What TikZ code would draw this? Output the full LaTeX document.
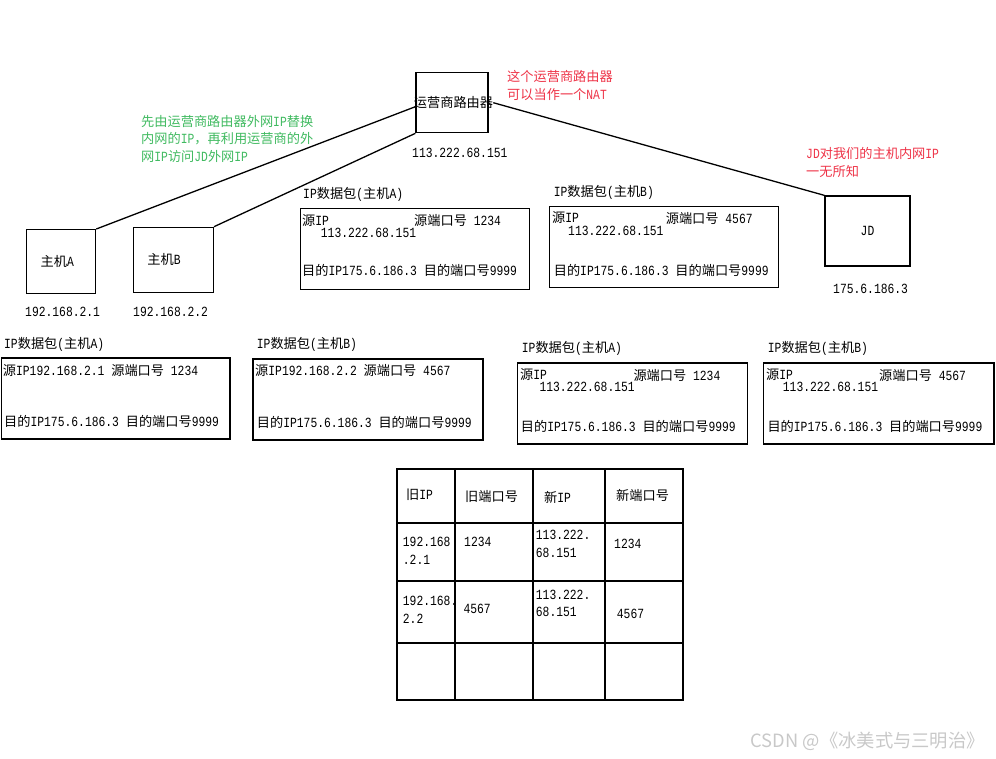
\documentclass[tikz,border=0pt]{standalone}
\usepackage{fontspec}
\setmainfont{Liberation Mono}[Scale=1.06,FakeStretch=0.81]
\newfontfamily\zhfont{Noto Sans CJK SC}
\usepackage{tikz}
\usetikzlibrary{positioning,calc}
\definecolor{noteRed}{RGB}{238,52,72}
\definecolor{noteGreen}{RGB}{64,186,96}
\definecolor{markGray}{RGB}{200,200,200}

% CJK runs switch to the CJK font by themselves
\XeTeXinterchartokenstate=1
\newcount\zhcode
\zhcode="4E00
\loop
  \XeTeXcharclass\zhcode=10
  \ifnum\zhcode<"9FFF \advance\zhcode by 1
\repeat
\XeTeXcharclass"FF0C=10
\XeTeXcharclass"300A=10
\XeTeXcharclass"300B=10
\XeTeXinterchartoks 0 10 = {\zhfont}
\XeTeXinterchartoks 4095 10 = {\zhfont}
\XeTeXinterchartoks 10 0 = {\rmfamily}
\XeTeXinterchartoks 10 4095 = {\rmfamily}

\begin{document}
\begin{tikzpicture}[x=1pt,y=-1pt,font=\fontsize{13.2}{17.5}\selectfont,
    netbox/.style={draw,line width=1.3pt,inner sep=0pt},
    pktbox/.style={draw,line width=1.3pt,inner sep=0pt,anchor=north west,minimum height=81pt},
    txt/.style={inner sep=0pt,anchor=base west,align=left},
    conn/.style={line width=1.3pt}]
    \useasboundingbox (0,0) rectangle (996,758);

    % Router
    \node[netbox,minimum width=72pt,minimum height=60pt] (router) at (452,102.7) {};
    \node[inner sep=0pt] (routerlbl) at ([xshift=1.5pt]router.center) {运营商路由器};
    \node[txt] (routerip) at (412,157) {113.222.68.151};
    \node[txt,text=noteRed] (natnote) at (507,99) {这个运营商路由器\\可以当作一个NAT};
    \node[txt,text=noteGreen] (swapnote) at (141,161) {先由运营商路由器外网IP替换\\内网的IP，再利用运营商的外\\网IP访问JD外网IP};

    % Hosts
    \node[netbox,anchor=north west,minimum height=64pt,text width=41pt,inner xsep=14pt,align=left] (hostA) at (26,229) {主机A};
    \node[netbox,anchor=north west,minimum height=65pt,text width=52pt,inner xsep=14pt,align=left] (hostB) at (132.7,226.7) {主机B};
    \node[txt] (hostAip) at (25,316) {192.168.2.1};
    \node[txt] (hostBip) at (133,316) {192.168.2.2};

    % JD
    \node[netbox,minimum width=85pt,minimum height=70pt] (jd) at (867.5,231) {JD};
    \node[txt] (jdip) at (833,293) {175.6.186.3};
    \node[txt,text=noteRed] (jdnote) at (806,176) {JD对我们的主机内网IP\\一无所知};

    % Links
    \draw[conn] ([yshift=-4pt]router.west) -- (hostA.north east);
    \draw[conn] (router.south west) -- (hostB.north east);
    \draw[conn] (routerlbl.east) -- (jd.north west);

    % Packets after the router
    \node[pktbox,minimum width=229pt] (pktA1) at (300,207.7) {};
    \node[txt] (pktA1t) at (303,198) {IP数据包(主机A)};
    \node[txt] (pktA1s) at (302,225.7) {源IP};
    \node[txt] (pktA1p) at (414,225.7) {源端口号 1234};
    \node[txt] (pktA1i) at (320.7,237) {113.222.68.151};
    \node[txt] (pktA1d) at (302,275.7) {目的IP175.6.186.3 目的端口号9999};

    \node[pktbox,minimum width=229pt] (pktB1) at (549,205.7) {};
    \node[txt] (pktB1t) at (553.6,196.7) {IP数据包(主机B)};
    \node[txt] (pktB1s) at (552,222) {源IP};
    \node[txt] (pktB1p) at (665.6,223) {源端口号 4567};
    \node[txt] (pktB1i) at (568,235.7) {113.222.68.151};
    \node[txt] (pktB1d) at (553.6,275) {目的IP175.6.186.3 目的端口号9999};

    % Packets from the hosts
    \node[pktbox,minimum width=228.6pt] (pktA0) at (0.7,357.3) {};
    \node[txt] (pktA0t) at (4,348.3) {IP数据包(主机A)};
    \node[txt] (pktA0s) at (2.7,375) {源IP192.168.2.1 源端口号 1234};
    \node[txt] (pktA0d) at (4,426.7) {目的IP175.6.186.3 目的端口号9999};

    \node[pktbox,minimum width=230pt] (pktB0) at (252.3,358.3) {};
    \node[txt] (pktB0t) at (256.7,348) {IP数据包(主机B)};
    \node[txt] (pktB0s) at (255,375.7) {源IP192.168.2.2 源端口号 4567};
    \node[txt] (pktB0d) at (256.7,427.7) {目的IP175.6.186.3 目的端口号9999};

    % Packets after NAT
    \node[pktbox,minimum width=230pt] (pktA2) at (516.7,362.3) {};
    \node[txt] (pktA2t) at (521.7,352.3) {IP数据包(主机A)};
    \node[txt] (pktA2s) at (520,379.3) {源IP};
    \node[txt] (pktA2p) at (633.3,380) {源端口号 1234};
    \node[txt] (pktA2i) at (539.3,391.3) {113.222.68.151};
    \node[txt] (pktA2d) at (520.7,431.7) {目的IP175.6.186.3 目的端口号9999};

    \node[pktbox,minimum width=230.6pt] (pktB2) at (762.7,362.3) {};
    \node[txt] (pktB2t) at (767.7,352.3) {IP数据包(主机B)};
    \node[txt] (pktB2s) at (766,379.3) {源IP};
    \node[txt] (pktB2p) at (879,380) {源端口号 4567};
    \node[txt] (pktB2i) at (782.7,391.3) {113.222.68.151};
    \node[txt] (pktB2d) at (767.3,431.7) {目的IP175.6.186.3 目的端口号9999};

    % NAT table
    \foreach \x in {397,455,533,605,683}
        \draw[conn,line cap=rect] (\x,469) -- (\x,700);
    \foreach \y in {469,523,581,643,700}
        \draw[conn,line cap=rect] (397,\y) -- (683,\y);
    \node[txt] (h1) at (406,499.3) {旧IP};
    \node[txt] (h2) at (465,501) {旧端口号};
    \node[txt] (h3) at (544,502.7) {新IP};
    \node[txt] (h4) at (616,500) {新端口号};
    \node[txt] (c11) at (402.7,564) {192.168\\.2.1};
    \node[txt] (c12) at (464,546.7) {1234};
    \node[txt] (c13) at (535.7,557.3) {113.222.\\68.151};
    \node[txt] (c14) at (614,548.3) {1234};
    \node[txt] (c21) at (402.7,623.3) {192.168.\\2.2};
    \node[txt] (c22) at (463.3,613.3) {4567};
    \node[txt] (c23) at (535.7,616.7) {113.222.\\68.151};
    \node[txt] (c24) at (616.7,618) {4567};

    \node[inner sep=0pt,anchor=base east,text=markGray,
          font={\XeTeXinterchartokenstate=0 \zhfont\fontsize{18.3}{21}\selectfont}] (mark) at (985,747) {CSDN @《冰美式与三明治》};
\end{tikzpicture}
\end{document}
